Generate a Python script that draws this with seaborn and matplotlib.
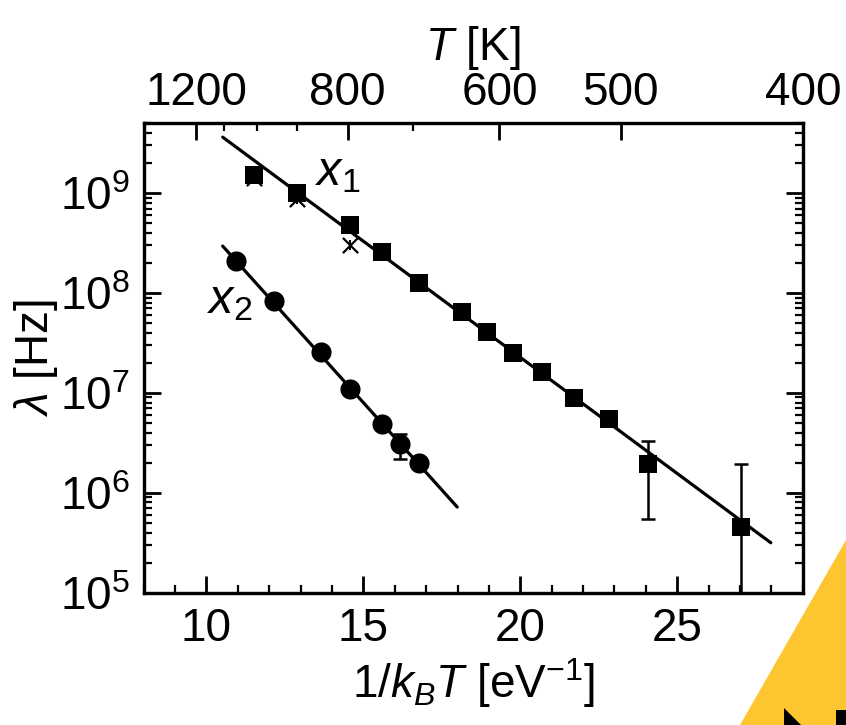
"""Arrhenius plot of transition rates for x1 and x2 with a temperature axis on top."""

import matplotlib
matplotlib.use("Agg")
import matplotlib.pyplot as plt
import matplotlib.ticker as mticker
from matplotlib.patches import Polygon
import numpy as np
import pandas as pd
import seaborn as sns

K_B = 8.617e-5  # eV/K

# x1 (squares)
x1_inv_kt = [11.53, 12.88, 14.57, 15.60, 16.77, 18.15, 18.93, 19.77, 20.70, 21.72, 22.83, 24.07, 27.03]
x1_rate = [1.5e9, 1.0e9, 4.8e8, 2.55e8, 1.27e8, 6.4e7, 4.1e7, 2.5e7, 1.6e7, 8.8e6, 5.5e6, 1.95e6, 4.5e5]
x1_err_x = [24.07, 27.03]
x1_err_y = [1.95e6, 4.5e5]
x1_err_lo = [5.5e5, 5.0e4]
x1_err_hi = [3.3e6, 1.95e6]

# x1 (crosses)
x1b_inv_kt = [11.53, 12.88, 14.57]
x1b_rate = [1.4e9, 8.8e8, 3.0e8]

# x2 (circles)
x2_inv_kt = [10.94, 12.15, 13.65, 14.57, 15.58, 16.17, 16.77]
x2_rate = [2.07e8, 8.3e7, 2.54e7, 1.09e7, 4.83e6, 3.07e6, 2.0e6]
x2_err_x = [16.17]
x2_err_y = [3.07e6]
x2_err_lo = [2.2e6]
x2_err_hi = [3.9e6]

# Arrhenius fits (end points)
fit1_x = [10.52, 27.98]
fit1_y = [3.63e9, 3.16e5]
fit2_x = [10.52, 17.99]
fit2_y = [2.95e8, 7.2e5]

top_major_T = [1200, 800, 600, 500, 400]
top_minor_T = [1100, 1000, 900, 700]

sns.set_theme(style="ticks")
plt.rcParams["font.family"] = ["Liberation Sans", "DejaVu Sans"]
plt.rcParams["mathtext.fontset"] = "custom"
plt.rcParams["mathtext.rm"] = "Liberation Sans"
plt.rcParams["mathtext.it"] = "Liberation Sans:italic"
plt.rcParams["mathtext.bf"] = "Liberation Sans:bold"
for key in ["text.color", "axes.labelcolor", "xtick.color", "ytick.color", "axes.edgecolor"]:
    plt.rcParams[key] = "black"

FS = 33

fig = plt.figure(figsize=(8.46, 7.25), dpi=100)
ax = fig.add_axes([0.1697, 0.1825, 0.949 - 0.1697, 0.830 - 0.1825])

fits = pd.concat([
    pd.DataFrame({"x": fit1_x, "y": fit1_y, "s": "x1"}),
    pd.DataFrame({"x": fit2_x, "y": fit2_y, "s": "x2"}),
])
sns.lineplot(data=fits, x="x", y="y", units="s", estimator=None, color="black",
             lw=2.3, ax=ax, legend=False)

for ex, ey, lo, hi in [(x1_err_x, x1_err_y, x1_err_lo, x1_err_hi),
                       (x2_err_x, x2_err_y, x2_err_lo, x2_err_hi)]:
    ey = np.array(ey)
    yerr = [ey - np.array(lo), np.array(hi) - ey]
    ax.errorbar(ex, ey, yerr=yerr, fmt="none", ecolor="black", elinewidth=1.8,
                capsize=5, capthick=1.8, zorder=2)

sns.scatterplot(x=x1b_inv_kt, y=x1b_rate, marker="x", s=120, color="black",
                linewidth=1.6, ax=ax, zorder=3)
sns.scatterplot(x=x1b_inv_kt, y=x1b_rate, marker="|", s=60, color="black",
                linewidth=1.4, ax=ax, zorder=3)
sns.scatterplot(x=x1_inv_kt, y=x1_rate, marker="s", s=170, color="black",
                edgecolor="black", linewidth=0, ax=ax, zorder=4)
sns.scatterplot(x=x2_inv_kt, y=x2_rate, marker="o", s=210, color="black",
                edgecolor="black", linewidth=0, ax=ax, zorder=4)

ax.set_yscale("log")
ax.set_xlim(8, 29)
ax.set_ylim(1e5, 5e9)
ax.xaxis.set_major_locator(mticker.MultipleLocator(5))
ax.xaxis.set_minor_locator(mticker.MultipleLocator(1))
ax.yaxis.set_major_locator(mticker.LogLocator(base=10, numticks=10))
ax.yaxis.set_minor_locator(mticker.LogLocator(base=10, subs=np.arange(2, 10), numticks=10))
ax.yaxis.set_minor_formatter(mticker.NullFormatter())

ax.tick_params(axis="both", which="major", direction="in", length=12, width=2,
               labelsize=FS, pad=10)
ax.tick_params(axis="both", which="minor", direction="in", length=6, width=1.6)
ax.tick_params(axis="y", which="both", right=True)
ax.tick_params(axis="x", which="both", top=False)
for sp in ax.spines.values():
    sp.set_linewidth(2.3)
    sp.set_color("black")

ax.set_xlabel(r"1/$k_B T$ [eV$^{-1}$]", fontsize=FS, labelpad=4)
ax.set_ylabel(r"$\lambda$ [Hz]", fontsize=FS, labelpad=0)

ax.text(14.2, 10 ** 9.2, r"$x_1$", fontsize=FS + 2, ha="center", va="center")
ax.text(10.75, 10 ** 7.92, r"$x_2$", fontsize=FS + 2, ha="center", va="center")

top = ax.twiny()
top.set_xlim(ax.get_xlim())
top.set_xticks([1.0 / (K_B * t) for t in top_major_T])
top.set_xticklabels([str(t) for t in top_major_T])
top.set_xticks([1.0 / (K_B * t) for t in top_minor_T], minor=True)
top.tick_params(axis="x", which="major", direction="in", length=12, width=2,
                labelsize=FS, pad=6)
top.tick_params(axis="x", which="minor", direction="in", length=6, width=1.6)
top.set_xlabel(r"$T$ [K]", fontsize=FS, labelpad=8)
for sp in top.spines.values():
    sp.set_linewidth(2.3)
    sp.set_color("black")

# logo fragment in the lower right corner
W, H = 846, 725
yellow = Polygon([(740 / W, 0), (1.0, (H - 540) / H), (1.0, 0)],
                 closed=True, transform=fig.transFigure, facecolor="#FDC530",
                 edgecolor="none", zorder=0)
fig.patches.append(yellow)
wedge = Polygon([(784 / W, (H - 708) / H), (784 / W, 0), (801 / W, 0)],
                closed=True, transform=fig.transFigure, facecolor="black",
                edgecolor="none", zorder=1)
fig.patches.append(wedge)
bar = Polygon([(836 / W, (H - 710) / H), (846 / W, (H - 710) / H), (846 / W, 0), (836 / W, 0)],
              closed=True, transform=fig.transFigure, facecolor="black",
              edgecolor="none", zorder=1)
fig.patches.append(bar)

plt.savefig("out.png", dpi=100)
plt.close()
